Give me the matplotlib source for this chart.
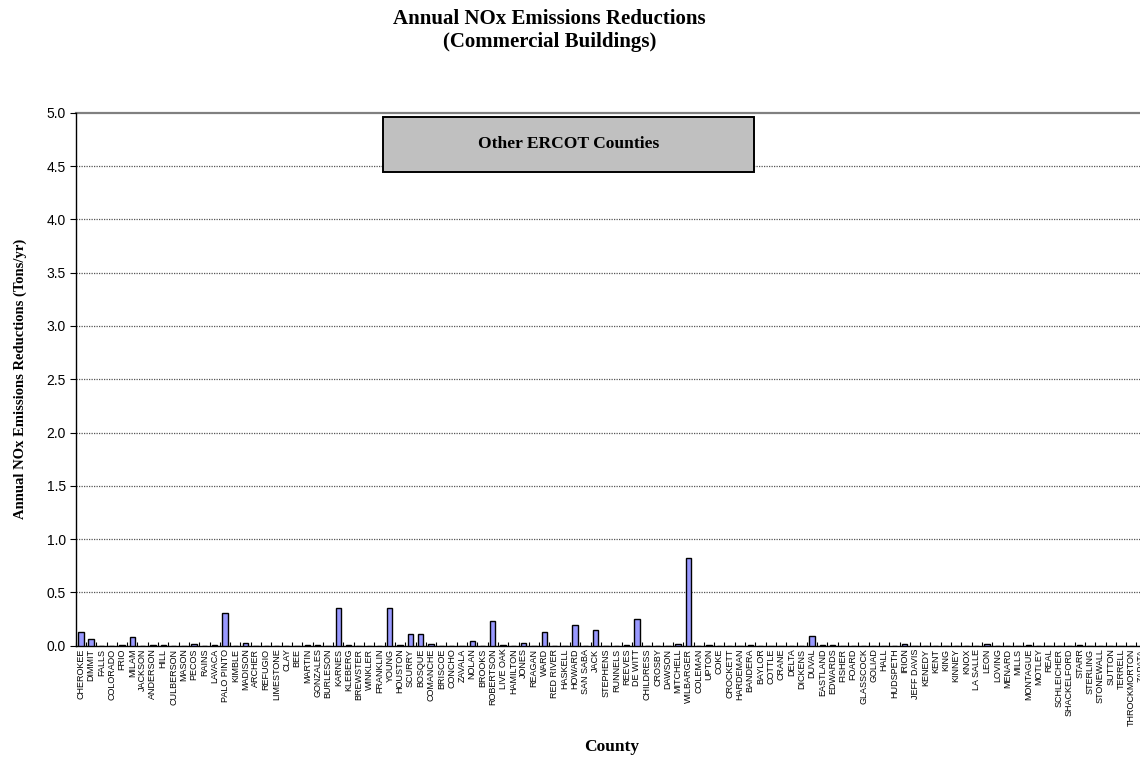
import matplotlib.pyplot as plt
from matplotlib.patches import Rectangle
import numpy as np

# county order as listed on the category axis
counties = [
    'CHEROKEE', 'DIMMIT', 'FALLS', 'COLORADO', 'FRIO', 'MILAM', 'JACKSON', 'ANDERSON',
    'HILL', 'CULBERSON', 'MASON', 'PECOS', 'RAINS', 'LAVACA', 'PALO PINTO', 'KIMBLE',
    'MADISON', 'ARCHER', 'REFUGIO', 'LIMESTONE', 'CLAY', 'BEE', 'MARTIN', 'GONZALES',
    'BURLESON', 'KARNES', 'KLEBERG', 'BREWSTER', 'WINKLER', 'FRANKLIN', 'YOUNG', 'HOUSTON',
    'SCURRY', 'BOSQUE', 'COMANCHE', 'BRISCOE', 'CONCHO', 'ZAVALA', 'NOLAN', 'BROOKS',
    'ROBERTSON', 'LIVE OAK', 'HAMILTON', 'JONES', 'REAGAN', 'WARD', 'RED RIVER', 'HASKELL',
    'HOWARD', 'SAN SABA', 'JACK', 'STEPHENS', 'RUNNELS', 'REEVES', 'DE WITT', 'CHILDRESS',
    'CROSBY', 'DAWSON', 'MITCHELL', 'WILBARGER', 'COLEMAN', 'UPTON', 'COKE', 'CROCKETT',
    'HARDEMAN', 'BANDERA', 'BAYLOR', 'COTTLE', 'CRANE', 'DELTA', 'DICKENS', 'DUVAL',
    'EASTLAND', 'EDWARDS', 'FISHER', 'FOARD', 'GLASSCOCK', 'GOLIAD', 'HALL', 'HUDSPETH',
    'IRION', 'JEFF DAVIS', 'KENEDY', 'KENT', 'KING', 'KINNEY', 'KNOX', 'LA SALLE',
    'LEON', 'LOVING', 'MENARD', 'MILLS', 'MONTAGUE', 'MOTLEY', 'REAL', 'SCHLEICHER',
    'SHACKELFORD', 'STARR', 'STERLING', 'STONEWALL', 'SUTTON', 'TERRELL', 'THROCKMORTON',
    'ZAPATA',
]

# NOx reductions, tons/yr
nox_tons = [
    0.13, 0.06, 0.0, 0.0, 0.01, 0.08, 0.0, 0.01,
    0.01, 0.0, 0.0, 0.015, 0.0, 0.01, 0.31, 0.0,
    0.025, 0.0, 0.0, 0.0, 0.0, 0.0, 0.01, 0.01,
    0.0, 0.35, 0.01, 0.0, 0.0, 0.0, 0.35, 0.01,
    0.11, 0.11, 0.02, 0.0, 0.0, 0.0, 0.04, 0.0,
    0.23, 0.01, 0.0, 0.03, 0.0, 0.13, 0.0, 0.0,
    0.19, 0.0, 0.15, 0.0, 0.0, 0.01, 0.25, 0.0,
    0.0, 0.0, 0.02, 0.82, 0.0, 0.01, 0.0, 0.0,
    0.0, 0.01, 0.0, 0.0, 0.0, 0.0, 0.0, 0.09,
    0.01, 0.005, 0.0, 0.0, 0.0, 0.0, 0.0, 0.0,
    0.015, 0.0, 0.0, 0.0, 0.0, 0.0, 0.0, 0.0,
    0.02, 0.0, 0.0, 0.0, 0.01, 0.0, 0.0, 0.0,
    0.0, 0.01, 0.0, 0.0, 0.0, 0.0, 0.0,
    0.0,
]

y_ticks = np.arange(0, 5.01, 0.5)

serif = 'Liberation Serif'
sans = 'Liberation Sans'

fig = plt.figure(figsize=(11.4, 7.58), dpi=100)
# plot area runs a little past the right edge of the figure
ax = fig.add_axes([0.0664, 0.1481, 0.9395, 0.7032])

x = np.arange(len(counties))
ax.bar(x, nox_tons, width=0.52, color='#9999FF', edgecolor='black', linewidth=1.0, zorder=3)

ax.set_xlim(-0.5, len(counties) - 0.5)
ax.set_ylim(0, 5.0)

# dotted gridlines, solid gray line along the top
for yv in y_ticks[1:-1]:
    ax.axhline(yv, color='#555555', linestyle=(0, (1, 1)), linewidth=0.9, zorder=1)
ax.axhline(5.0, color='#808080', linewidth=1.6, zorder=1, clip_on=False)

for side in ['top', 'right']:
    ax.spines[side].set_visible(False)
ax.spines['left'].set_linewidth(1.0)
ax.spines['bottom'].set_linewidth(1.0)

ax.set_yticks(y_ticks)
ax.set_yticklabels([f'{v:.1f}' for v in y_ticks], fontsize=10, family=sans)
ax.tick_params(axis='y', direction='out', length=4, width=0.8, pad=3)

ax.set_xticks(x)
ax.set_xticklabels(counties, rotation=90, fontsize=6.5, family=sans)
ax.tick_params(axis='x', which='major', length=0, pad=2)
ax.set_xticks(np.arange(-0.5, len(counties), 1.0), minor=True)
ax.tick_params(axis='x', which='minor', direction='in', length=3, width=0.8)

ax.set_ylabel('Annual NOx Emissions Reductions (Tons/yr)', fontsize=10.5,
              fontweight='bold', family=serif, labelpad=14)
fig.text(0.5364, 0.0149, 'County', ha='center', va='center', fontsize=12.5,
         fontweight='bold', family=serif)

fig.text(0.482, 0.975, 'Annual NOx Emissions Reductions', ha='center', va='center',
         fontsize=15, fontweight='bold', family=serif)
fig.text(0.482, 0.945, '(Commercial Buildings)', ha='center', va='center',
         fontsize=15, fontweight='bold', family=serif)

# region label box
ax.add_patch(Rectangle((0.287, 0.888), 0.346, 0.1045, transform=ax.transAxes,
                       facecolor='#C0C0C0', edgecolor='black', linewidth=1.4, zorder=5))
ax.text(0.4599, 0.9405, 'Other ERCOT Counties', transform=ax.transAxes,
        ha='center', va='center', fontsize=12.6, fontweight='bold', family=serif,
        zorder=6)

fig.savefig('out.png', dpi=100)
